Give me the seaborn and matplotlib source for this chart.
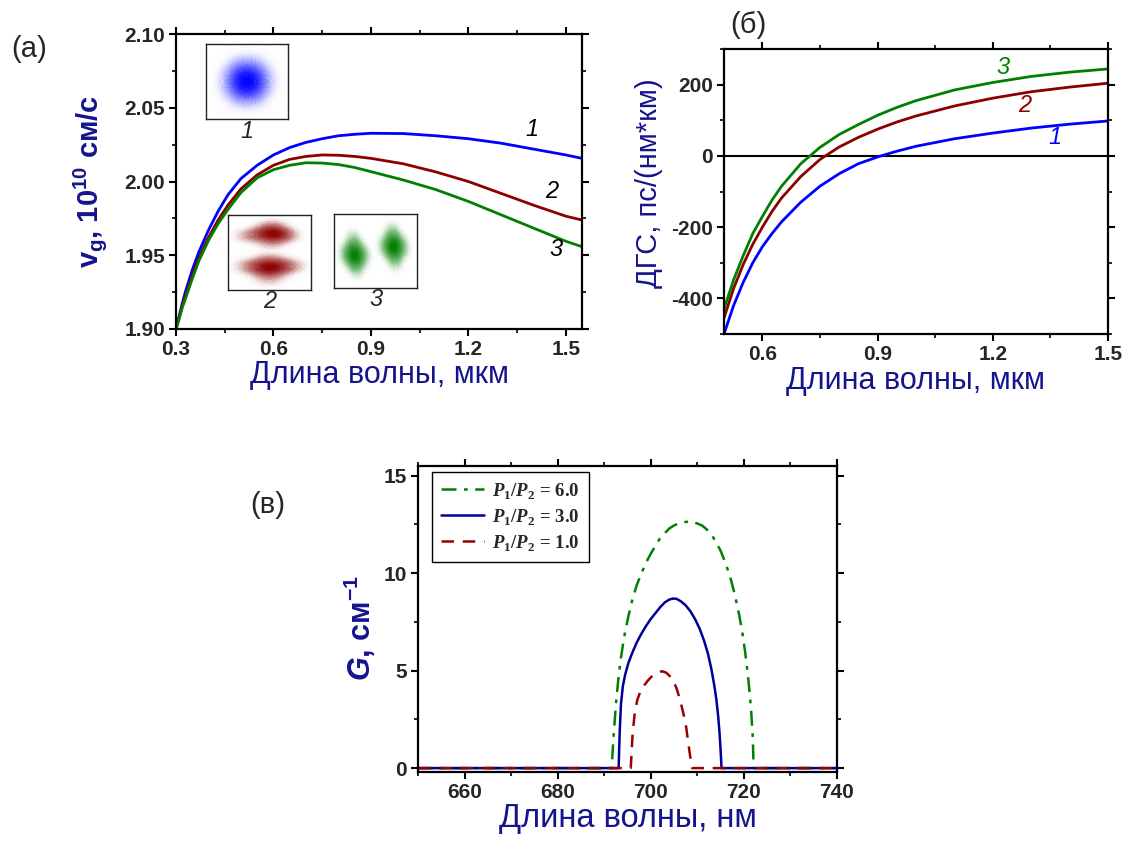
import numpy as np
import pandas as pd
import matplotlib
matplotlib.use("Agg")
import matplotlib.pyplot as plt
import seaborn as sns
from matplotlib.ticker import MultipleLocator, FormatStrFormatter, FixedLocator
from matplotlib.colors import LinearSegmentedColormap

# ---------------- data: panel (a) group velocity ----------------
wl_a = [0.30, 0.31, 0.32, 0.33, 0.35, 0.37, 0.40, 0.43, 0.46, 0.50, 0.55, 0.60,
        0.65, 0.70, 0.75, 0.80, 0.85, 0.90, 1.00, 1.10, 1.20, 1.30, 1.40, 1.50, 1.55]
vg_1 = [1.900, 1.909, 1.918, 1.926, 1.940, 1.952, 1.967, 1.980, 1.991, 2.002, 2.011, 2.018,
        2.023, 2.0265, 2.029, 2.031, 2.032, 2.0327, 2.0325, 2.031, 2.029, 2.026, 2.022, 2.018, 2.0157]
vg_2 = [1.900, 1.908, 1.916, 1.923, 1.936, 1.948, 1.962, 1.974, 1.984, 1.995, 2.0045, 2.011,
        2.015, 2.017, 2.018, 2.0178, 2.017, 2.0157, 2.012, 2.0065, 2.000, 1.992, 1.984, 1.9765, 1.9739]
vg_3 = [1.900, 1.907, 1.915, 1.921, 1.934, 1.946, 1.960, 1.9715, 1.981, 1.9925, 2.0025, 2.008,
        2.011, 2.0127, 2.0125, 2.0115, 2.0095, 2.0067, 2.0010, 1.9945, 1.9865, 1.9775, 1.9685, 1.9595, 1.9558]

# ---------------- data: panel (b) dispersion ----------------
wl_b = [0.5, 0.525, 0.55, 0.575, 0.6, 0.625, 0.65, 0.7, 0.75, 0.8, 0.85, 0.9, 0.95,
        1.0, 1.1, 1.2, 1.3, 1.4, 1.5]
dgs_1 = [-500, -420, -355, -300, -255, -218, -185, -130, -85, -50, -22, -3, 13,
         27, 48, 64, 78, 89, 98]
dgs_2 = [-455, -372, -305, -248, -200, -156, -118, -58, -10, 25, 52, 75, 95,
         112, 140, 162, 180, 193, 204]
dgs_3 = [-430, -348, -280, -218, -170, -124, -85, -22, 24, 60, 88, 114, 136,
         155, 185, 206, 223, 235, 244]

# ---------------- data: panel (v) gain ----------------
wl_g6 = [650, 691.6, 691.8, 692.0, 692.3, 692.6, 693.0, 693.5, 694.0, 694.5, 695.2, 696,
         697, 698, 699, 700, 701, 702, 703, 704, 705, 706, 707, 708.5, 710, 711,
         712, 713, 714, 715, 716, 717, 718, 719, 719.7, 720.3, 720.8, 721.3, 721.6,
         721.9, 722.1, 740]
g_6 = [0, 0, 0.8, 1.6, 2.6, 3.5, 4.5, 5.5, 6.3, 7.0, 7.8, 8.6,
       9.4, 10.0, 10.55, 11.0, 11.4, 11.8, 12.05, 12.3, 12.45, 12.55, 12.62, 12.65, 12.55, 12.45,
       12.25, 12.0, 11.6, 11.15, 10.55, 9.85, 8.95, 7.85, 6.9, 5.9, 4.9, 3.7, 2.8,
       1.6, 0, 0]
wl_g3 = [650, 693.1, 693.2, 693.35, 693.6, 694.0, 694.5, 695.2, 696, 697, 698, 699, 700,
         701, 702, 703, 704, 704.8, 705.6, 706.5, 707.5, 708.5, 709.5, 710.5, 711.5,
         712.3, 713.0, 713.6, 714.1, 714.5, 714.8, 715.05, 715.2, 740]
g_3 = [0, 0, 0.9, 2.0, 3.3, 4.2, 4.8, 5.4, 5.9, 6.45, 6.9, 7.3, 7.65,
       7.95, 8.25, 8.5, 8.65, 8.7, 8.68, 8.55, 8.35, 8.05, 7.65, 7.15, 6.5,
       5.85, 5.1, 4.3, 3.5, 2.6, 1.7, 0.7, 0, 0]
wl_g1 = [650, 695.7, 695.9, 696.1, 696.5, 697.1, 697.8, 698.6, 699.4, 700.2, 701.2, 702.4,
         703.3, 704.3, 705.0, 705.6, 706.1, 706.6, 707.1, 707.6, 708.0, 708.4, 708.9, 740]
g_1 = [0, 0, 0.9, 1.76, 2.7, 3.5, 3.95, 4.25, 4.5, 4.7, 4.87, 4.97,
       4.9, 4.67, 4.4, 4.05, 3.65, 3.2, 2.7, 2.1, 1.4, 0.7, 0, 0]

legend_labels = [r'$\mathsf{P}_{\mathtt{1}}\mathtt{/}\mathsf{P}_{\mathtt{2}}$ = 6.0',
                 r'$\mathsf{P}_{\mathtt{1}}\mathtt{/}\mathsf{P}_{\mathtt{2}}$ = 3.0',
                 r'$\mathsf{P}_{\mathtt{1}}\mathtt{/}\mathsf{P}_{\mathtt{2}}$ = 1.0']

# ---------------- data: mode-profile insets (sample points per lobe) ----------------
mode1_x = [0.50, 0.50, 0.72, 0.28, 0.61, 0.39, 0.61, 0.39]
mode1_y = [0.50, 0.50, 0.50, 0.50, 0.70, 0.70, 0.30, 0.30]
mode2a_x = [0.22, 0.40, 0.58, 0.72, 0.52, 0.52, 0.55]
mode2a_y = [0.72, 0.75, 0.77, 0.72, 0.61, 0.87, 0.74]
mode2b_x = [0.22, 0.42, 0.60, 0.78, 0.50, 0.50, 0.50]
mode2b_y = [0.32, 0.30, 0.31, 0.32, 0.14, 0.42, 0.27]
mode3a_x = [0.235, 0.25, 0.265, 0.13, 0.37, 0.25]
mode3a_y = [0.66, 0.45, 0.26, 0.45, 0.45, 0.45]
mode3b_x = [0.705, 0.72, 0.735, 0.60, 0.84, 0.72]
mode3b_y = [0.76, 0.56, 0.36, 0.56, 0.56, 0.56]

# ---------------- style ----------------
sns.set_theme(style="white")
plt.rcParams['font.family'] = ['Liberation Sans', 'DejaVu Sans']
plt.rcParams['axes.unicode_minus'] = False
plt.rcParams['mathtext.fontset'] = 'custom'
plt.rcParams['mathtext.rm'] = 'Liberation Sans:bold'
plt.rcParams['mathtext.it'] = 'Liberation Sans:italic:bold'
plt.rcParams['mathtext.bf'] = 'Liberation Sans:bold'
plt.rcParams['mathtext.sf'] = 'Liberation Serif:italic:bold'
plt.rcParams['mathtext.tt'] = 'Liberation Serif:bold'

NAVY = '#14148c'
BLUE = '#0000ff'
RED = '#8b0000'
GREEN = '#008000'
W, H = 1126, 843

fig = plt.figure(figsize=(W / 100, H / 100), dpi=100)
fig.patch.set_facecolor('white')


def px_axes(l, r, t, b):
    return fig.add_axes([l / W, 1 - b / H, (r - l) / W, (b - t) / H])


def bold_ticks(ax):
    for lab in ax.get_xticklabels() + ax.get_yticklabels():
        lab.set_fontweight('bold')


def style_axes(ax, xmaj, xmin, ymaj, ymin, xfmt, yfmt, size=15):
    ax.set_facecolor('white')
    for sp in ax.spines.values():
        sp.set_visible(True)
        sp.set_color('black')
        sp.set_linewidth(1.6)
    ax.xaxis.set_major_locator(MultipleLocator(xmaj))
    ax.xaxis.set_minor_locator(MultipleLocator(xmin))
    ax.yaxis.set_major_locator(MultipleLocator(ymaj))
    ax.yaxis.set_minor_locator(MultipleLocator(ymin))
    ax.xaxis.set_major_formatter(FormatStrFormatter(xfmt))
    ax.yaxis.set_major_formatter(FormatStrFormatter(yfmt))
    ax.tick_params(which='both', direction='out', top=True, right=True,
                   bottom=True, left=True, labeltop=False, labelright=False,
                   color='black')
    ax.tick_params(which='major', length=5, width=1.5, labelsize=size, pad=3)
    ax.tick_params(which='minor', length=3, width=1.2)
    bold_ticks(ax)
    ax.grid(False)


# ---------------- panel (a) ----------------
axa = px_axes(176, 582, 34, 329)
for y, c in [(vg_1, BLUE), (vg_2, RED), (vg_3, GREEN)]:
    sns.lineplot(x=wl_a, y=y, color=c, linewidth=2.0, ax=axa, sort=False)
axa.set_xlim(0.3, 1.55)
axa.set_ylim(1.90, 2.10)
style_axes(axa, 0.3, 0.15, 0.05, 0.025, '%.1f', '%.2f', size=15)
axa.set_xlabel('Длина волны, мкм', fontsize=22, color=NAVY, labelpad=1)
axa.set_ylabel(r'$\mathbf{v_g}$, $\mathbf{10^{10}}$ см/с', fontsize=21,
               fontweight='bold', color=NAVY)
axa.yaxis.set_label_coords(-0.165, 0.5)
for txt, x, y in [('1', 532, 130), ('2', 552, 192), ('3', 556, 250)]:
    fig.text(x / W, 1 - y / H, txt, fontsize=17, style='italic',
             ha='center', va='center', color='black')
fig.text(29 / W, 1 - 49 / H, '(a)', fontsize=21, ha='center', va='center')

# insets (colour ramps from transparent white to the mode colour)
cm_b = LinearSegmentedColormap.from_list('wb', [(1, 1, 1, 0), (0.55, 0.55, 1, 0.6), (0, 0, 1, 1)])
cm_r = LinearSegmentedColormap.from_list('wr', [(1, 1, 1, 0), (0.75, 0.45, 0.45, 0.6), (0.545, 0, 0, 1)])
cm_g = LinearSegmentedColormap.from_list('wg', [(1, 1, 1, 0), (0.45, 0.72, 0.45, 0.6), (0, 0.5, 0, 1)])
insets = [((206, 288, 44, 119), [(mode1_x, mode1_y, 1.45)], cm_b, '1'),
          ((228, 311, 215, 290), [(mode2a_x, mode2a_y, 1.25), (mode2b_x, mode2b_y, 1.25)], cm_r, '2'),
          ((334, 417, 214, 288), [(mode3a_x, mode3a_y, 1.25), (mode3b_x, mode3b_y, 1.25)], cm_g, '3')]
for (l, r, t, b), lobes, cm, lab in insets:
    axi = px_axes(l, r, t, b)
    for mx, my, bw in lobes:
        sns.kdeplot(x=mx, y=my, fill=True, cmap=cm, levels=30, thresh=0.02,
                    bw_adjust=bw, ax=axi)
    axi.set_xlim(0, 1)
    axi.set_ylim(0, 1)
    axi.set_xlabel('')
    axi.set_ylabel('')
    axi.set_facecolor('white')
    for sp in axi.spines.values():
        sp.set_visible(True)
        sp.set_color('#222222')
        sp.set_linewidth(1.0)
    axi.xaxis.set_major_locator(MultipleLocator(0.125))
    axi.yaxis.set_major_locator(MultipleLocator(0.125))
    axi.tick_params(which='both', direction='in', length=2.5, width=0.8,
                    top=False, right=False, labelbottom=False, labelleft=False,
                    color='#333333')
    axi.grid(False)
    fig.text(((l + r) / 2) / W, 1 - (b + 12) / H, lab, fontsize=17,
             style='italic', ha='center', va='center')

# ---------------- panel (b) ----------------
axb = px_axes(724, 1108, 49, 334)
axb.axhline(0, color='black', linewidth=1.5)
for y, c in [(dgs_1, BLUE), (dgs_2, RED), (dgs_3, GREEN)]:
    sns.lineplot(x=wl_b, y=y, color=c, linewidth=2.0, ax=axb, sort=False)
axb.set_xlim(0.5, 1.5)
axb.set_ylim(-500, 300)
style_axes(axb, 0.3, 0.15, 200, 100, '%.1f', '%d', size=15)
axb.set_xticks([0.6, 0.9, 1.2, 1.5])
axb.xaxis.set_minor_locator(FixedLocator([0.75, 1.05, 1.35]))
bold_ticks(axb)
axb.set_xlabel('Длина волны, мкм', fontsize=22, color=NAVY, labelpad=1)
axb.set_ylabel('ДГС, пс/(нм*км)', fontsize=21, color=NAVY)
axb.yaxis.set_label_coords(-0.16, 0.53)
for txt, x, y, c in [('3', 1003, 68, GREEN), ('2', 1025, 105, RED), ('1', 1055, 137, BLUE)]:
    fig.text(x / W, 1 - y / H, txt, fontsize=17, style='italic',
             ha='center', va='center', color=c)
fig.text(748 / W, 1 - 25 / H, '(б)', fontsize=21, ha='center', va='center')

# ---------------- panel (v) ----------------
axv = px_axes(418, 837, 466, 772)
sns.lineplot(x=wl_g6, y=g_6, color=GREEN, linewidth=1.8, ax=axv, sort=False,
             linestyle=(0, (6, 3, 1.5, 3)), label=legend_labels[0])
sns.lineplot(x=wl_g3, y=g_3, color='#000099', linewidth=1.8, ax=axv, sort=False,
             label=legend_labels[1])
sns.lineplot(x=wl_g1, y=g_1, color='#990000', linewidth=1.8, ax=axv, sort=False,
             linestyle=(0, (5, 3.5)), label=legend_labels[2])
axv.set_xlim(650, 740)
axv.set_ylim(-0.2, 15.5)
style_axes(axv, 20, 10, 5, 2.5, '%d', '%d', size=15)
axv.set_xlabel('Длина волны, нм', fontsize=23.5, color=NAVY, labelpad=1)
axv.set_ylabel(r'$G$, см$^{\mathbf{-1}}$', fontsize=22, fontweight='bold',
               color=NAVY)
axv.yaxis.set_label_coords(-0.095, 0.47)
leg = axv.legend(loc='upper left', bbox_to_anchor=(0.033, 0.982), borderaxespad=0,
                 frameon=True, fancybox=False, framealpha=1, edgecolor='black',
                 prop={'family': 'Liberation Serif', 'weight': 'bold', 'size': 13.5},
                 handlelength=2.3, labelspacing=0.32, borderpad=0.5, handletextpad=0.4)
leg.get_frame().set_linewidth(1.0)
fig.text(268 / W, 1 - 505 / H, '(в)', fontsize=21, ha='center', va='center')

fig.savefig('out.png', dpi=100, facecolor='white')
